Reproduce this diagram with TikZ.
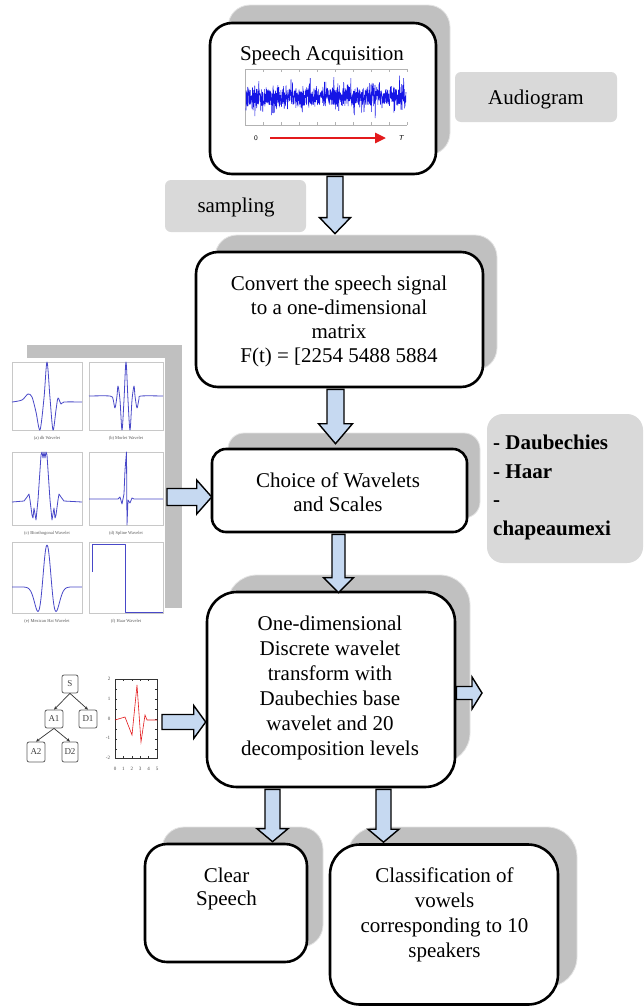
\documentclass[tikz,border=0pt]{standalone}
\usepackage{fontspec}
\setmainfont{Liberation Serif}
\usetikzlibrary{calc,arrows.meta}
\definecolor{shadowgray}{HTML}{C0C0C0}
\definecolor{shadowedge}{HTML}{E4E4E4}
\definecolor{lightbox}{HTML}{D9D9D9}
\definecolor{arrowblue}{HTML}{C6D9F1}
\definecolor{wavblue}{HTML}{4848C8}
\definecolor{sigblue}{HTML}{1515E6}
\definecolor{sigred}{HTML}{E31A1C}
\definecolor{panelgray}{HTML}{C8C8C8}

% vertical block arrow: #1 x, #2 from, #3 to, #4 tip shift (down +), #5 shaft half, #6 head half, #7 head length
\newcommand\vblk[7]{%
  \draw[barrow] let \p1=(#2), \p2=(#3) in
    ({(#1-#5)*1pt},{\y1-1pt})
    -- ({(#1-#5)*1pt},{\y2-(#4pt)+#7pt})
    -- ({(#1-#6)*1pt},{\y2-(#4pt)+#7pt})
    -- ({#1*1pt},{\y2-(#4pt)})
    -- ({(#1+#6)*1pt},{\y2-(#4pt)+#7pt})
    -- ({(#1+#5)*1pt},{\y2-(#4pt)+#7pt})
    -- ({(#1+#5)*1pt},{\y1-1pt}) -- cycle;}
% horizontal block arrow: #1 y, #2 from, #3 to, #4 tip shift (right +), #5 shaft half, #6 head half, #7 head length
\newcommand\hblk[7]{%
  \draw[barrow] let \p1=(#2), \p2=(#3) in
    (\x1,{(-#1+#5)*1pt})
    -- ({\x2+(#4pt)-#7pt},{(-#1+#5)*1pt})
    -- ({\x2+(#4pt)-#7pt},{(-#1+#6)*1pt})
    -- ({\x2+(#4pt)},{-#1*1pt})
    -- ({\x2+(#4pt)-#7pt},{(-#1-#6)*1pt})
    -- ({\x2+(#4pt)-#7pt},{(-#1-#5)*1pt})
    -- (\x1,{(-#1-#5)*1pt}) -- cycle;}

\begin{document}
\begin{tikzpicture}[x=1pt,y=-1pt,
  mainbox/.style={draw=black, line width=2.6pt, fill=white, rounded corners=#1, inner sep=0pt},
  mainbox/.default=20pt,
  shadowbox/.style={draw=shadowedge, line width=0.8pt, fill=shadowgray, rounded corners=#1, inner sep=0pt},
  shadowbox/.default=20pt,
  graybox/.style={fill=lightbox, rounded corners=#1, inner sep=0pt},
  graybox/.default=6pt,
  txt/.style={font=\fontsize{21}{24}\selectfont, align=center, inner sep=0pt},
  txtb/.style={font=\fontsize{21}{28.6}\selectfont\bfseries, align=left, inner sep=0pt},
  barrow/.style={draw=black, line width=1.4pt, fill=arrowblue, line join=miter},
  panel/.style={draw=panelgray, line width=0.5pt, fill=white},
  wav/.style={draw=wavblue, line width=0.8pt, line join=round},
  captxt/.style={font=\fontsize{4.5}{5}\selectfont, inner sep=0pt, text=black!65},
  tnode/.style={draw=gray!75!black, fill=white, rounded corners=2pt, line width=0.8pt, inner sep=0pt, font=\fontsize{9}{9}\selectfont, text=black!75},
  tedge/.style={-{Stealth[length=3.5pt,width=3pt]}, line width=0.7pt, black!80},
  plab/.style={font=\fontsize{5}{5}\selectfont, inner sep=0pt, text=black!70},
]
\useasboundingbox (0,0) rectangle (644,1007);
\fill[white] (0,0) rectangle (644,1007);

% ---------- shadows ----------
\node[shadowbox=22pt, minimum width=222, minimum height=150] (s1) at (339,80) {};
\node[shadowbox=22pt, minimum width=282, minimum height=135] (s2) at (356,302.5) {};
\node[shadowbox=16pt, minimum width=252, minimum height=85] (s3) at (354,475.5) {};
\node[shadowbox=30pt, minimum width=243, minimum height=188] (s4) at (348.5,669) {};
\node[shadowbox=22pt, minimum width=161, minimum height=120] (s5) at (242.5,887) {};
\node[shadowbox=30pt, minimum width=230, minimum height=160] (s6) at (462,907) {};

% ---------- grey side labels ----------
\node[graybox=6pt, minimum width=162, minimum height=50] (aud) at (536,97) {};
\node[txt] (audt) at (536,99) {Audiogram};
\node[graybox=6pt, minimum width=141, minimum height=52] (samp) at (235.5,206) {};
\node[txt] (sampt) at (236,207.5) {sampling};
\node[graybox=16pt, minimum width=156, minimum height=149] (db) at (565,488.5) {};
\node[txtb, anchor=west] (dbt) at (493,487.5) {- Daubechies\\- Haar\\-\\chapeaumexi};

% ---------- main boxes ----------
\node[mainbox=22pt, minimum width=226, minimum height=151] (b1) at (323,98.5) {};
\node[mainbox=22pt, minimum width=287, minimum height=135] (b2) at (339.5,319.5) {};
\node[mainbox=14pt, minimum width=255, minimum height=83] (b3) at (339.5,490.5) {};
\node[mainbox=30pt, minimum width=248, minimum height=195] (b4) at (331,689.5) {};
\node[mainbox=22pt, minimum width=162, minimum height=118] (b5) at (226,903) {};
\node[mainbox=30pt, minimum width=228, minimum height=160] (b6) at (444,924.5) {};

\node[txt] (t1) at (322,55) {Speech Acquisition};
\node[txt] (t2) at (339,321) {Convert the speech signal\\to a one-dimensional\\matrix\\F(t) = [2254 5488 5884};
\node[txt] (t3) at (338,492) {Choice of Wavelets\\and Scales};
\node[txt, font=\fontsize{21}{25}\selectfont] (t4) at (330,688) {One-dimensional\\Discrete wavelet\\transform with\\Daubechies base\\wavelet and 20\\decomposition levels};
\node[txt, font=\fontsize{21}{23.5}\selectfont] (t5) at (226.5,889) {Clear\\Speech};
\node[txt, font=\fontsize{21}{25}\selectfont] (t6) at (444.5,914.5) {Classification of\\vowels\\corresponding to 10\\speakers};

% ---------- waveform in box 1 ----------
\draw[gray!60, line width=0.6pt] (407,69) -- (245,69) -- (245,125) -- (407,125);
\foreach \xx in {263,281,...,407} {\draw[gray!60, line width=0.5pt] (\xx,125) -- (\xx,122); \draw[gray!60, line width=0.5pt] (\xx,69) -- (\xx,72);}
\pgfmathsetseed{3}
\draw[sigblue, line width=0.55pt] plot[domain=246:406, samples=900] (\x,{97+(8+15*pow(rnd,5))*rand});
\draw[sigred, line width=2.6pt, -{Triangle[length=11pt,width=10pt]}] (270,138) -- (386,138);
\node[font=\sffamily\fontsize{7}{7}\selectfont, inner sep=0pt] (zero) at (256,138) {0};
\node[font=\sffamily\itshape\fontsize{7}{7}\selectfont, inner sep=0pt] (tee) at (401,138) {T};

% ---------- wavelet gallery ----------
\fill[shadowgray] (27,345) rectangle (182,608);
\node[fill=white, minimum width=157, minimum height=266, inner sep=0pt] (wimg) at (86.5,491) {};
\draw[panel] (12,362) rectangle (82,430);
\draw[panel] (89,362) rectangle (163,430);
\draw[panel] (12,452) rectangle (82,525);
\draw[panel] (89,452) rectangle (163,525);
\draw[panel] (12,542) rectangle (82,613);
\draw[panel] (89,542) rectangle (163,613);
\draw[wav] plot[smooth, tension=0.5] coordinates {(12,402) (22,400) (28,394) (32,397) (36,412) (40,430) (44,398) (47,362) (50,398) (53,430) (56,410) (58,398) (61,404) (64,402) (82,402)};
\draw[wav] plot[smooth, tension=0.5] coordinates {(89,396) (110,396) (113,399) (115,408) (117,396) (118,386) (120,400) (122,430) (124,400) (126,362) (128,400) (130,430) (132,400) (134,386) (135,396) (137,408) (139,399) (141,396) (163,396)};
\draw[wav] (12,502) -- (24,501) -- (27,497) -- (29,494) -- (30,500) -- (32,515) -- (33,518) -- (34,508) -- (36,520) -- (38,500) -- (40,470) -- (41,455) -- (42,452) -- (43,458) -- (44,452) -- (45,458) -- (46,452) -- (47,455) -- (48,470) -- (50,500) -- (52,520) -- (54,508) -- (55,518) -- (56,515) -- (58,500) -- (59,494) -- (61,497) -- (64,501) -- (82,502);
\draw[wav] (89,499) -- (118,499) -- (120,497) -- (122,504) -- (124,494) -- (125,470) -- (126.5,452) -- (127,525) -- (128,500) -- (130,503) -- (132,498) -- (134,499) -- (163,499);
\draw[wav] plot[domain=-7.1:7.1, samples=120, variable=\t] ({47+4.9*\t},{587-42*(1-\t*\t)*exp(-\t*\t/2.4)});
\draw[wav] (92,572) -- (92,544) -- (125,544) -- (125,612) -- (163,612);
\begin{scope}
\clip (8,357) rectangle (165,623);
\node[captxt] (ca) at (47,438) {(a) db Wavelet};
\node[captxt] (cb) at (126,438) {(b) Morlet Wavelet};
\node[captxt] (cc) at (47,533) {(c) Biorthogonal Wavelet};
\node[captxt] (cd) at (126,533) {(d) Spline Wavelet};
\node[captxt] (ce) at (47,621) {(e) Mexican Hat Wavelet};
\node[captxt] (cf) at (126,621) {(f) Haar Wavelet};
\end{scope}

% ---------- decomposition tree ----------
\node[tnode, minimum width=16, minimum height=18] (S) at (70,684) {S};
\node[tnode, minimum width=18, minimum height=18] (A1) at (54,719) {A1};
\node[tnode, minimum width=18, minimum height=18] (D1) at (88,719) {D1};
\node[tnode, minimum width=18, minimum height=20] (A2) at (36,752) {A2};
\node[tnode, minimum width=16, minimum height=20] (D2) at (70,752) {D2};
\draw[tedge] (S.south) -- (A1.north);
\draw[tedge] (S.south) -- (D1.north);
\draw[tedge] (A1.south) -- (A2.north);
\draw[tedge] (A1.south) -- (D2.north);

% ---------- small signal plot ----------
\draw[black!80, line width=0.4pt] (115,679) rectangle (157,758);
\foreach \yy in {679,689,...,758} {\draw[black!80, line width=0.3pt] (115,\yy) -- (117,\yy); \draw[black!80, line width=0.3pt] (157,\yy) -- (155,\yy);}
\foreach \k in {1,...,4} {\draw[black!80, line width=0.3pt] ({115+8.4*\k},758) -- ({115+8.4*\k},756); \draw[black!80, line width=0.3pt] ({115+8.4*\k},679) -- ({115+8.4*\k},681);}
\node[plab] (y2) at (109,679) {2};
\node[plab] (y1) at (109,699) {1};
\node[plab] (y0) at (109,719) {0};
\node[plab] (ym1) at (108,738) {-1};
\node[plab] (ym2) at (108,758) {-2};
\foreach \k in {0,...,5} {\node[plab] (xl\k) at ({115+8.4*\k},769) {\k};}
\draw[sigred, line width=0.6pt] (115,720) -- (125,717) -- (132,735) -- (137,685) -- (141,742) -- (145,715) -- (147,720) -- (157,720);

% ---------- block arrows ----------
\coordinate (h1s) at (167,497);
\coordinate (h2s) at (162,722);
\coordinate (h3e) at (482,692);
\vblk{335}{b1.south}{s2.north}{-1}{8}{15.5}{16}
\vblk{335.5}{b2.south}{b3.north}{-4}{8.5}{17}{20}
\vblk{338.5}{b3.south}{b4.north}{2}{6.5}{15}{15}
\vblk{272.5}{b4.south}{b5.north}{-1}{7.5}{15.5}{13}
\vblk{383.5}{b4.south}{b6.north}{-1}{7.5}{15.5}{13}
\hblk{497}{h1s}{b3.west}{1}{8.5}{17}{15}
\hblk{722}{h2s}{b4.west}{0}{7.5}{16.5}{12}
\hblk{693}{b4.east}{h3e}{0}{6.5}{16}{10}
\end{tikzpicture}
\end{document}
